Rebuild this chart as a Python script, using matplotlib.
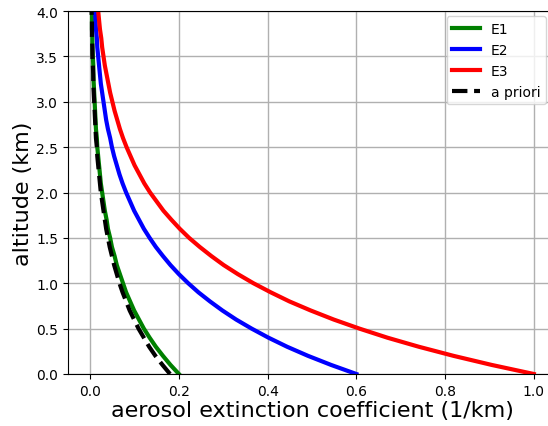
import matplotlib
matplotlib.use("Agg")
import matplotlib.pyplot as plt

# altitude grid (km) and extinction values
altitude = [0.0, 0.1, 0.2, 0.3, 0.4, 0.5, 0.6, 0.7, 0.8, 0.9, 1.0,
            1.1, 1.2, 1.3, 1.4, 1.5, 1.6, 1.7, 1.8, 1.9, 2.0,
            2.1, 2.2, 2.3, 2.4, 2.5, 2.6, 2.7, 2.8, 2.9, 3.0,
            3.1, 3.2, 3.3, 3.4, 3.5, 3.6, 3.7, 3.8, 3.9, 4.0]

e1 = [0.200, 0.181, 0.164, 0.148, 0.134, 0.121, 0.110, 0.099, 0.090, 0.081, 0.074,
      0.067, 0.060, 0.055, 0.049, 0.045, 0.040, 0.037, 0.033, 0.030, 0.027,
      0.024, 0.022, 0.020, 0.018, 0.016, 0.015, 0.013, 0.012, 0.011, 0.010,
      0.009, 0.008, 0.007, 0.007, 0.006, 0.005, 0.005, 0.004, 0.004, 0.004]
e2 = [0.600, 0.543, 0.491, 0.444, 0.402, 0.364, 0.329, 0.298, 0.270, 0.244, 0.221,
      0.200, 0.181, 0.164, 0.148, 0.134, 0.121, 0.110, 0.099, 0.090, 0.081,
      0.073, 0.066, 0.060, 0.054, 0.049, 0.045, 0.040, 0.036, 0.033, 0.030,
      0.027, 0.024, 0.022, 0.020, 0.018, 0.016, 0.015, 0.013, 0.012, 0.011]
e3 = [1.000, 0.905, 0.819, 0.741, 0.670, 0.607, 0.549, 0.497, 0.449, 0.407, 0.368,
      0.333, 0.301, 0.273, 0.247, 0.223, 0.202, 0.183, 0.165, 0.150, 0.135,
      0.122, 0.111, 0.100, 0.091, 0.082, 0.074, 0.067, 0.061, 0.055, 0.050,
      0.045, 0.041, 0.037, 0.033, 0.030, 0.027, 0.025, 0.022, 0.020, 0.018]
a_priori = [0.180, 0.163, 0.147, 0.133, 0.121, 0.109, 0.099, 0.089, 0.081, 0.073, 0.066,
            0.060, 0.054, 0.049, 0.044, 0.040, 0.036, 0.033, 0.030, 0.027, 0.024,
            0.022, 0.020, 0.018, 0.016, 0.015, 0.013, 0.012, 0.011, 0.010, 0.009,
            0.008, 0.007, 0.007, 0.006, 0.005, 0.005, 0.004, 0.004, 0.004, 0.003]

fig = plt.figure(figsize=(5.48, 4.27), dpi=100)
ax = fig.add_axes([68 / 548, 52 / 427, 488 / 548, 363 / 427])

ax.plot(e1, altitude, color="g", lw=3, label="E1")
ax.plot(e2, altitude, color="b", lw=3, label="E2")
ax.plot(e3, altitude, color="r", lw=3, label="E3")
ax.plot(a_priori, altitude, color="k", lw=3, ls="--", label="a priori")

ax.set_xlim(-0.05, 1.05)
ax.set_ylim(0, 4)
ax.set_xticks([0.0, 0.2, 0.4, 0.6, 0.8, 1.0])
ax.set_yticks([0.0, 0.5, 1.0, 1.5, 2.0, 2.5, 3.0, 3.5, 4.0])
ax.grid(True, color="#b0b0b0", lw=1)
ax.tick_params(labelsize=10)
# the right edge of the frame is cut off in the original
ax.spines["right"].set_visible(False)

ax.set_xlabel("aerosol extinction coefficient (1/km)", fontsize=16, labelpad=2)
ax.set_ylabel("altitude (km)", fontsize=16, labelpad=2)
ax.legend(loc="upper right", fontsize=10, bbox_to_anchor=(0.98, 0.985),
          borderaxespad=0)

fig.savefig("out.png", dpi=100)
